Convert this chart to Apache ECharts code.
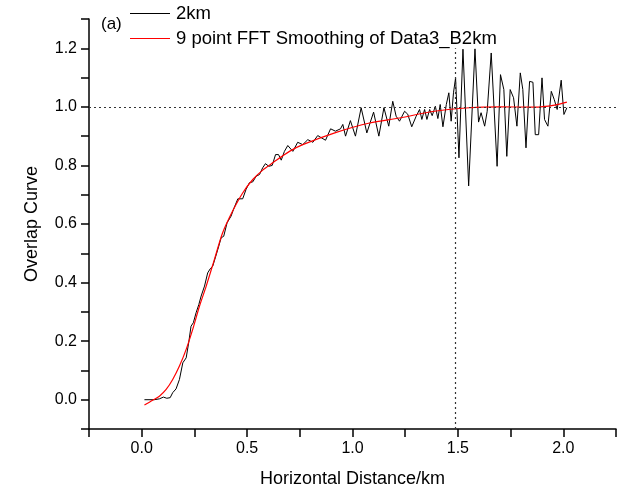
<!DOCTYPE html>
<html>
<head>
<meta charset="utf-8">
<script src="https://cdn.jsdelivr.net/npm/echarts@6/dist/echarts.min.js"></script>
<style>
html,body{margin:0;padding:0;background:#fff;}
#chart{width:628px;height:493px;}
</style>
</head>
<body>
<div id="chart"></div>
<script>
// Raw overlap data "2km": horizontal distance (km) and overlap values
var rawX = [0.013,0.060,0.084,0.103,0.119,0.135,0.147,0.163,0.179,0.195,0.211,0.223,0.234,0.245,0.258,0.271,0.282,0.298,0.313,0.325,0.337,0.345,0.361,0.377,0.389,0.405,0.424,0.435,0.456,0.479,0.495,0.511,0.527,0.543,0.559,0.574,0.587,0.603,0.619,0.635,0.649,0.662,0.677,0.693,0.717,0.740,0.764,0.788,0.812,0.835,0.851,0.872,0.896,0.919,0.943,0.954,0.967,0.990,1.014,1.041,1.068,1.100,1.125,1.149,1.172,1.191,1.207,1.223,1.247,1.262,1.281,1.302,1.318,1.329,1.342,1.353,1.366,1.378,1.393,1.405,1.416,1.429,1.445,1.457,1.468,1.479,1.489,1.505,1.524,1.551,1.581,1.598,1.610,1.627,1.639,1.658,1.686,1.702,1.718,1.732,1.748,1.764,1.780,1.796,1.808,1.823,1.840,1.856,1.867,1.883,1.899,1.911,1.927,1.943,1.957,1.971,1.990,2.003,2.017];
var rawY = [0.000,0.000,0.003,0.009,0.005,0.007,0.024,0.037,0.069,0.126,0.143,0.195,0.251,0.263,0.297,0.325,0.354,0.388,0.433,0.447,0.456,0.456,0.513,0.553,0.558,0.604,0.627,0.649,0.686,0.686,0.718,0.741,0.744,0.763,0.769,0.792,0.806,0.797,0.800,0.837,0.837,0.818,0.848,0.868,0.848,0.879,0.871,0.888,0.879,0.902,0.895,0.886,0.925,0.917,0.925,0.940,0.900,0.953,0.900,0.997,0.911,0.982,0.900,0.997,0.934,1.019,0.968,0.951,0.985,0.975,0.932,0.968,0.991,0.957,0.991,0.957,0.991,0.970,1.002,0.960,1.008,0.932,1.008,1.048,0.951,1.048,1.099,0.826,1.197,0.730,1.198,0.948,0.980,0.934,0.985,1.184,0.797,1.110,1.059,0.831,1.059,1.031,0.934,1.116,1.059,0.860,1.087,1.084,0.905,0.905,1.099,0.957,0.934,1.053,1.025,0.991,1.091,0.974,0.997];
// 9 point FFT smoothing
var smoothX = [0.013,0.052,0.084,0.116,0.147,0.179,0.211,0.242,0.274,0.306,0.345,0.384,0.432,0.479,0.527,0.574,0.622,0.701,0.764,0.923,1.081,1.223,1.389,1.555,1.697,1.863,1.959,2.017];
var smoothY = [-0.018,-0.002,0.012,0.035,0.069,0.115,0.172,0.240,0.319,0.388,0.479,0.570,0.645,0.706,0.752,0.784,0.809,0.848,0.871,0.913,0.945,0.962,0.985,0.997,1.000,0.999,1.006,1.016];
// reference lines
var refLevel = 1.0;
var cutoffX = 1.487;
var cutoffTop = 1.2;
var seriesNames = ['2km', '9 point FFT Smoothing of Data3_B2km'];
var seriesColors = ['#000000', '#ff0000'];

function pairs(xs, ys){ return xs.map(function(x,i){ return [x, ys[i]]; }); }

var FONT = 'Liberation Sans, Arial, sans-serif';
var chart = echarts.init(document.getElementById('chart'), null, {renderer:'canvas'});
chart.setOption({
  animation: false,
  backgroundColor: '#fff',
  grid: {left: 89, right: 12, top: 19, bottom: 63, containLabel: false},
  legend: {
    orient: 'vertical', left: 130, top: 4, padding: 0,
    icon: 'rect', itemWidth: 40, itemHeight: 1, itemGap: 6,
    itemStyle: {borderWidth: 0},
    textStyle: {fontSize: 18.5, color: '#000', fontFamily: FONT, lineHeight: 18, padding: [0,0,0,1]},
    data: seriesNames.map(function(n, i){
      return {name: n, itemStyle: {color: seriesColors[i], borderWidth: 0}};
    })
  },
  graphic: [{
    type: 'text', left: 101, top: 16,
    style: {text: '(a)', font: '17px ' + FONT, fill: '#000'}
  }],
  xAxis: {
    type: 'value', min: -0.25, max: 2.25, interval: 0.25,
    name: 'Horizontal Distance/km', nameLocation: 'middle', nameGap: 41,
    nameTextStyle: {fontSize: 18, color: '#000', fontFamily: FONT},
    axisLine: {show: true, onZero: false, lineStyle: {color: '#000', width: 1.5}},
    axisTick: {show: true, inside: false, length: 8, lineStyle: {color: '#000', width: 1.5}},
    axisLabel: {
      margin: 12, fontSize: 16, color: '#000', fontFamily: FONT,
      formatter: function(v){ var k = Math.round(v*100); return (k % 50 === 0) ? v.toFixed(1) : ''; }
    },
    splitLine: {show: false}
  },
  yAxis: {
    type: 'value', min: -0.1, max: 1.3, interval: 0.1,
    name: 'Overlap Curve', nameLocation: 'middle', nameGap: 48,
    nameTextStyle: {fontSize: 18, color: '#000', fontFamily: FONT},
    axisLine: {show: true, onZero: false, lineStyle: {color: '#000', width: 1.5}},
    axisTick: {show: true, inside: false, length: 8, lineStyle: {color: '#000', width: 1.5}},
    axisLabel: {
      margin: 12, fontSize: 16, color: '#000', fontFamily: FONT,
      formatter: function(v){ var k = Math.round(v*10); return (k >= 0 && k <= 12 && k % 2 === 0) ? v.toFixed(1) : ''; }
    },
    splitLine: {show: false}
  },
  series: [
    {
      name: seriesNames[0], type: 'line', data: pairs(rawX, rawY),
      showSymbol: false, symbol: 'none', smooth: false,
      lineStyle: {color: seriesColors[0], width: 1}, itemStyle: {color: seriesColors[0]},
      markLine: {
        silent: true, symbol: ['none','none'], label: {show: false},
        lineStyle: {color: '#333', width: 1.2, type: [2, 3]},
        data: [
          {yAxis: refLevel},
          [{coord: [cutoffX, -0.1]}, {coord: [cutoffX, cutoffTop]}]
        ]
      }
    },
    {
      name: seriesNames[1], type: 'line', data: pairs(smoothX, smoothY),
      showSymbol: false, symbol: 'none', smooth: 0.3,
      lineStyle: {color: seriesColors[1], width: 1.2}, itemStyle: {color: seriesColors[1]}
    }
  ]
});
</script>
</body>
</html>
